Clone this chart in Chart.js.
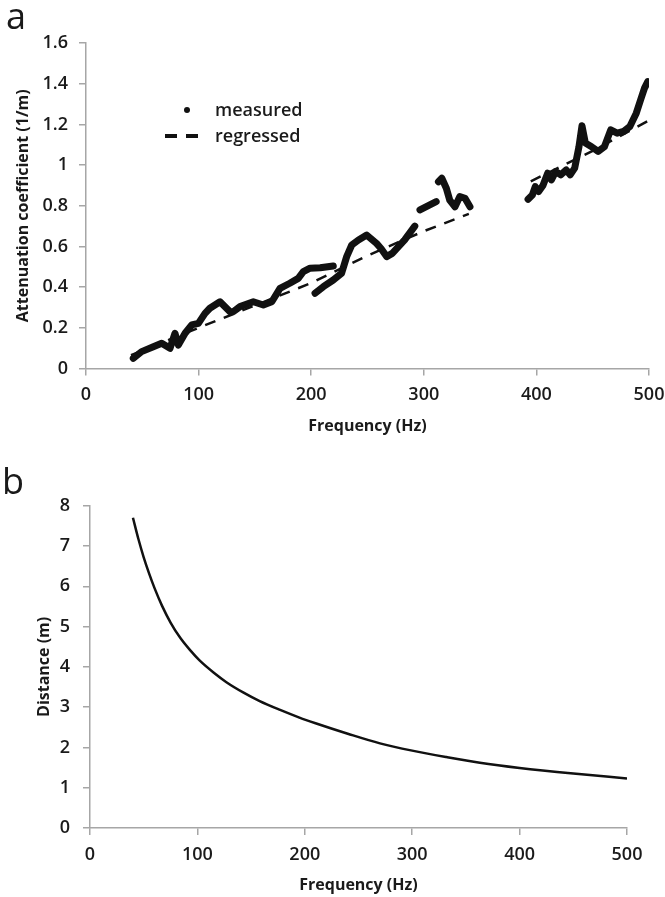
<!DOCTYPE html>
<html>
<head>
<meta charset="utf-8">
<title>Attenuation and distance vs frequency</title>
<script src="https://cdn.jsdelivr.net/npm/chart.js@4.4.0/dist/chart.umd.min.js"></script>
<style>
  body { margin: 0; background: #fff; width: 665px; height: 897px; position: relative; overflow: hidden; font-family: 'Open Sans', sans-serif; }
  canvas { position: absolute; left: 0; }
  .tag { position: absolute; font-size: 36px; line-height: 36px; color: #1a1a1a; }
  .leg { position: absolute; font-size: 18px; line-height: 18px; font-weight: 600; color: #1a1a1a; }
  .mark { position: absolute; background: #111; }
</style>
</head>
<body>
<canvas id="attenChart" width="665" height="445" style="top:0"></canvas>
<canvas id="distChart" width="665" height="447" style="top:450px"></canvas>

<div class="tag" style="left:6px; top:-2px">a</div>
<div class="tag" style="left:2px; top:463px">b</div>

<!-- legend of panel a -->
<div class="mark" style="left:184px; top:107px; width:6px; height:6px; border-radius:50%"></div>
<div class="leg" style="left:215px; top:100px">measured</div>
<div class="mark" style="left:165px; top:134px; width:12px; height:4px"></div>
<div class="mark" style="left:186px; top:134px; width:12px; height:4px"></div>
<div class="leg" style="left:215px; top:126px">regressed</div>

<script>
// Panel a: measured attenuation, null = gap in the trace
const measuredHz = [
  42, 49.4, 59.8, 67.2, 74.6, 79, 82, 88, 93.9, 99.8, 105.7, 110, 119, 127.9, 131, 136.8,
  148.6, 157.5, 165, 172.3, 181, 188.5, 193, 199, 208, 219.6, 220,
  203.4, 210.8, 219.6, 227, 231.5, 236, 242, 249.3, 258, 262, 267, 272, 277.7, 283, 292, 294,
  296.6, 311, 312,
  313, 316, 320, 323, 327.7, 332, 336.6, 341, 365,
  392.6, 396.4, 399, 402, 405.8, 410, 413.3, 417, 421.6, 426.5, 430, 434, 437.8, 440.5,
  443.5, 449, 454.8, 460.4, 466, 471.7, 477.4, 483, 488.7, 492.5, 496, 498.9
];
const measuredAtten = [
  0.05, 0.083, 0.107, 0.124, 0.099, 0.173, 0.115, 0.173, 0.214, 0.222, 0.271, 0.296, 0.328, 0.279, 0.28, 0.304,
  0.328, 0.312, 0.328, 0.394, 0.419, 0.443, 0.476, 0.493, 0.495, 0.504, null,
  0.37, 0.402, 0.435, 0.468, 0.55, 0.607, 0.632, 0.656, 0.615, 0.59, 0.55, 0.566, 0.60, 0.632, 0.70, null,
  0.78, 0.82, null,
  0.918, 0.935, 0.886, 0.828, 0.795, 0.845, 0.837, 0.795, null,
  0.832, 0.853, 0.894, 0.87, 0.90, 0.96, 0.927, 0.968, 0.952, 0.976, 0.952, 0.985, 1.09, 1.193,
  1.108, 1.09, 1.067, 1.09, 1.173, 1.157, 1.165, 1.19, 1.255, 1.32, 1.378, 1.41
];

// Panel a: regressed attenuation
const regressedHz = [40, 100, 150, 200, 250, 300, 340, 370, 395, 450, 500];
const regressedAtten = [0.065, 0.20, 0.31, 0.42, 0.555, 0.675, 0.76, null, 0.92, 1.07, 1.22];

// Panel b: distance
const distanceHz = [40, 45, 50, 55, 60, 67, 75, 84, 93, 102, 115, 127, 143, 158, 177, 195, 210, 240, 270, 300, 332, 363, 400, 450, 500];
const distanceM = [7.70, 7.18, 6.72, 6.32, 5.96, 5.52, 5.10, 4.72, 4.42, 4.16, 3.86, 3.62, 3.36, 3.15, 2.93, 2.74, 2.60, 2.34, 2.10, 1.92, 1.76, 1.62, 1.49, 1.35, 1.23];

// Tick labels
const freqTicks = [0, 100, 200, 300, 400, 500];
const attenTicks = [0, 0.2, 0.4, 0.6, 0.8, 1, 1.2, 1.4, 1.6];
const distTicks = [0, 1, 2, 3, 4, 5, 6, 7, 8];

const axisGray = '#a6a6a6';
const textColor = '#1a1a1a';
const tickFont = { family: 'Open Sans', size: 18, weight: '600' };
const titleFont = { family: 'Open Sans', size: 16, weight: 'bold' };

function toPoints(xs, ys) {
  return xs.map((x, i) => ({ x: x, y: ys[i] }));
}

// one axis in the Excel look: grey border, short outside ticks, no grid
function makeAxis(opts) {
  return {
    type: 'linear',
    min: opts.ticks[0],
    max: opts.ticks[opts.ticks.length - 1],
    afterBuildTicks: scale => { scale.ticks = opts.ticks.map(v => ({ value: v })); },
    afterFit: scale => {
      if (opts.width) scale.width = opts.width;
      if (opts.height) scale.height = opts.height;
      scale.paddingLeft = scale.paddingRight = scale.paddingTop = scale.paddingBottom = 0;
    },
    grid: { display: true, drawOnChartArea: false, drawTicks: true, tickLength: 7, color: axisGray, lineWidth: 1.5 },
    border: { display: true, color: axisGray, width: 1.5 },
    ticks: {
      font: tickFont,
      color: textColor,
      padding: opts.tickPad,
      maxRotation: 0,
      callback: v => String(v)
    },
    title: {
      display: true,
      text: opts.title,
      font: titleFont,
      color: textColor,
      padding: opts.titlePad
    }
  };
}

// Panel a
new Chart(document.getElementById('attenChart'), {
  type: 'line',
  data: {
    datasets: [
      {
        label: 'measured',
        data: toPoints(measuredHz, measuredAtten),
        borderColor: '#111',
        borderWidth: 7,
        borderCapStyle: 'round',
        borderJoinStyle: 'round',
        pointRadius: 0,
        tension: 0,
        spanGaps: false
      },
      {
        label: 'regressed',
        data: toPoints(regressedHz, regressedAtten),
        borderColor: '#111',
        borderWidth: 2.5,
        borderDash: [11, 9],
        pointRadius: 0,
        tension: 0,
        spanGaps: false
      }
    ]
  },
  options: {
    responsive: false,
    devicePixelRatio: 1,
    animation: false,
    layout: { padding: { left: 0, right: 16, top: 43, bottom: 0 } },
    plugins: { legend: { display: false }, tooltip: { enabled: false } },
    scales: {
      x: makeAxis({ ticks: freqTicks, title: 'Frequency (Hz)', height: 76.5, tickPad: 9, titlePad: { top: 0, bottom: 9 } }),
      y: makeAxis({ ticks: attenTicks, title: 'Attenuation coefficient (1/m)', width: 86, tickPad: 11, titlePad: { top: 14, bottom: 0 } })
    }
  }
});

// Panel b
new Chart(document.getElementById('distChart'), {
  type: 'line',
  data: {
    datasets: [
      {
        label: 'distance',
        data: toPoints(distanceHz, distanceM),
        borderColor: '#111',
        borderWidth: 2.5,
        pointRadius: 0,
        cubicInterpolationMode: 'monotone'
      }
    ]
  },
  options: {
    responsive: false,
    devicePixelRatio: 1,
    animation: false,
    layout: { padding: { left: 0, right: 38, top: 55.7, bottom: 0 } },
    plugins: { legend: { display: false }, tooltip: { enabled: false } },
    scales: {
      x: makeAxis({ ticks: freqTicks, title: 'Frequency (Hz)', height: 69, tickPad: 9, titlePad: { top: 0, bottom: 2 } }),
      y: makeAxis({ ticks: distTicks, title: 'Distance (m)', width: 90, tickPad: 13, titlePad: { top: 35, bottom: 0 } })
    }
  }
});
</script>
</body>
</html>
